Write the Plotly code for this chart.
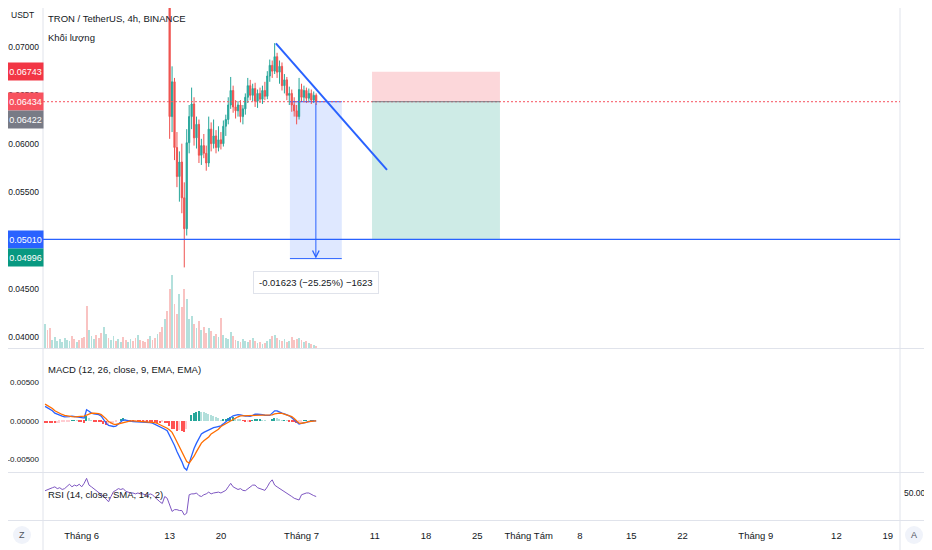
import pandas as pd
import plotly.graph_objects as go

# the page puts the figure 8px in from the top-left corner of the 932x550 window
PAD = 8
W, H = 932 - PAD, 550 - PAD

# TRX/USDT bars (8h steps), 27 May -> 3 Jul 2022
bar_time = pd.date_range("2022-05-27 00:00", periods=112, freq="8h")

open_ = [
    .0812, .0820, .0817, .0811, .0816, .0823, .0827, .0830, .0834, .0838,
    .0852, .0857, .0850, .0845, .0849, .0846, .0834, .0818, .0805, .0812,
    .0815, .0818, .0810, .0806, .0801, .0805, .0808, .0804, .0806, .0809,
    .0807, .0817, .0821, .0814, .0801, .0808, .0811, .0806, .0803, .0807,
    .0804, .0801, .0799, .0790, .0793, .0788, .0777, .0781, .0768, .0752,
    .0760, .0755, .0628, .0664, .0596, .0566, .0581, .0544, .0512, .0601,
    .0628, .0641, .0606, .0620, .0588, .0598, .0590, .0580, .0615, .0600,
    .0608, .0596, .0604, .0600, .0618, .0625, .0640, .0655, .0638, .0634,
    .0640, .0628, .0636, .0648, .0660, .0650, .0657, .0644, .0652, .0646,
    .0655, .0649, .0670, .0681, .0675, .0690, .0674, .0680, .0660, .0666,
    .0650, .0652, .0640, .0634, .0628, .0656, .0648, .0655, .0647, .0652, .0645, .0650,
]
high = [
    .0825, .0828, .0823, .0819, .0826, .0831, .0834, .0838, .0842, .0858,
    .0863, .0862, .0856, .0853, .0855, .0852, .0838, .0824, .0816, .0820,
    .0822, .0824, .0816, .0812, .0809, .0811, .0814, .0810, .0813, .0815,
    .0821, .0826, .0825, .0818, .0811, .0815, .0816, .0812, .0810, .0813,
    .0809, .0807, .0804, .0797, .0799, .0793, .0785, .0786, .0775, .0766,
    .0768, .0759, .0680, .0668, .0612, .0592, .0600, .0560, .0615, .0640,
    .0658, .0648, .0628, .0625, .0605, .0610, .0598, .0628, .0622, .0625,
    .0614, .0618, .0612, .0624, .0630, .0648, .0669, .0660, .0645, .0644,
    .0645, .0640, .0652, .0668, .0666, .0662, .0663, .0656, .0658, .0660,
    .0664, .0675, .0687, .0686, .0704, .0694, .0686, .0684, .0672, .0669,
    .0659, .0656, .0648, .0640, .0668, .0662, .0660, .0658, .0657, .0656, .0654, .0652,
]
low = [
    .0806, .0814, .0809, .0805, .0812, .0818, .0821, .0825, .0829, .0835,
    .0846, .0847, .0840, .0838, .0842, .0830, .0812, .0796, .0801, .0806,
    .0809, .0807, .0802, .0797, .0796, .0800, .0802, .0798, .0801, .0803,
    .0804, .0812, .0810, .0795, .0794, .0802, .0803, .0799, .0797, .0801,
    .0798, .0795, .0786, .0783, .0785, .0772, .0770, .0764, .0742, .0748,
    .0749, .0605, .0612, .0583, .0555, .0540, .0528, .0472, .0505, .0590,
    .0615, .0598, .0595, .0580, .0578, .0585, .0572, .0576, .0592, .0595,
    .0590, .0592, .0594, .0597, .0608, .0620, .0636, .0632, .0626, .0628,
    .0622, .0620, .0630, .0642, .0645, .0644, .0638, .0637, .0642, .0641,
    .0645, .0646, .0664, .0668, .0672, .0668, .0662, .0655, .0652, .0645,
    .0640, .0633, .0628, .0620, .0625, .0643, .0644, .0642, .0643, .0641, .0642, .0640,
]
close = [
    .0820, .0817, .0811, .0816, .0823, .0827, .0830, .0834, .0838, .0852,
    .0857, .0850, .0845, .0849, .0846, .0834, .0818, .0805, .0812, .0815,
    .0818, .0810, .0806, .0801, .0805, .0808, .0804, .0806, .0809, .0807,
    .0817, .0821, .0814, .0801, .0808, .0811, .0806, .0803, .0807, .0804,
    .0801, .0799, .0790, .0793, .0788, .0777, .0781, .0768, .0752, .0760,
    .0755, .0628, .0664, .0596, .0566, .0581, .0544, .0512, .0601, .0628,
    .0641, .0606, .0620, .0588, .0598, .0590, .0580, .0615, .0600, .0608,
    .0596, .0604, .0600, .0618, .0625, .0640, .0655, .0638, .0634, .0640,
    .0628, .0636, .0648, .0660, .0650, .0657, .0644, .0652, .0646, .0655,
    .0649, .0670, .0681, .0675, .0690, .0674, .0680, .0660, .0666, .0650,
    .0652, .0640, .0634, .0628, .0656, .0648, .0655, .0647, .0652, .0645, .0650, .06434,
]
# volume, millions of TRX
volume = [
    250, 180, 200, 80, 110, 70, 90, 60, 100, 80,
    70, 120, 90, 60, 80, 100, 110, 430, 180, 120,
    90, 130, 100, 150, 220, 140, 100, 80, 120, 70,
    90, 60, 110, 80, 60, 90, 70, 100, 130, 80,
    70, 60, 90, 120, 80, 100, 140, 160, 220, 300,
    380, 600, 750, 450, 350, 550, 420, 600, 500, 300,
    330, 250, 200, 280, 180, 220, 150, 200, 170, 120,
    140, 110, 310, 130, 100, 90, 160, 120, 80, 70,
    60, 90, 70, 60, 80, 100, 70, 50, 60, 40,
    50, 70, 90, 120, 130, 100, 80, 70, 90, 60,
    70, 110, 80, 90, 100, 80, 60, 70, 50, 40, 30, 20,
]
macd = [
    .00187, .00170, .00150, .00130, .00100, .00085, .00072, .00062, .00052, .00050,
    .00055, .00060, .00057, .00055, .00050, .00040, .00035, .00143, .00125, .00100,
    .00091, .00088, .00080, .00060, .00013, -.00030, -.00060, -.00072, -.00074, -.00070,
    -.00040, -.00010, .00013, .00010, .00000, -.00005, -.00009, -.00010, -.00012, -.00015,
    -.00017, -.00018, -.00020, -.00025, -.00030, -.00045, -.00060, -.00075, -.00087, -.00110,
    -.00130, -.00190, -.00250, -.00320, -.00400, -.00460, -.00530, -.00610, -.00640, -.00550,
    -.00440, -.00360, -.00290, -.00220, -.00170, -.00150, -.00135, -.00120, -.00100, -.00090,
    -.00082, -.00072, -.00065, -.00040, -.00010, .00020, .00043, .00065, .00075, .00080,
    .00078, .00065, .00060, .00062, .00057, .00070, .00085, .00087, .00087, .00080,
    .00072, .00070, .00070, .00100, .00130, .00130, .00113, .00100, .00090, .00080,
    .00065, .00040, .00010, -.00025, -.00043, -.00035, -.00025, -.00015, -.00009, -.00005, -.00002, .00000,
]
signal = [
    .00217, .00200, .00180, .00160, .00130, .00112, .00095, .00082, .00070, .00063,
    .00058, .00055, .00052, .00053, .00054, .00055, .00060, .00075, .00090, .00098,
    .00100, .00098, .00092, .00080, .00057, .00025, -.00010, -.00030, -.00043, -.00048,
    -.00040, -.00028, -.00017, -.00008, -.00003, .00000, .00000, -.00003, -.00005, -.00007,
    -.00009, -.00011, -.00013, -.00015, -.00017, -.00025, -.00035, -.00048, -.00065, -.00080,
    -.00096, -.00120, -.00150, -.00210, -.00270, -.00335, -.00400, -.00470, -.00530, -.00550,
    -.00510, -.00460, -.00400, -.00345, -.00290, -.00260, -.00235, -.00210, -.00170, -.00150,
    -.00130, -.00110, -.00074, -.00055, -.00035, -.00015, .00000, .00020, .00038, .00052,
    .00065, .00066, .00065, .00065, .00065, .00066, .00068, .00070, .00070, .00071,
    .00071, .00070, .00070, .00078, .00090, .00098, .00100, .00095, .00085, .00078,
    .00070, .00055, .00030, .00000, -.00030, -.00032, -.00028, -.00020, -.00009, -.00006, -.00003, .00000,
]
hist = [
    -.00030, -.00030, -.00030, -.00030, -.00030, -.00027, -.00023, -.00020, -.00018, -.00013,
    -.00003, .00005, .00005, .00002, -.00004, -.00015, -.00025, .00068, .00035, .00002,
    -.00009, -.00010, -.00012, -.00020, -.00044, -.00055, -.00050, -.00042, -.00031, -.00022,
    .00000, .00018, .00030, .00018, .00003, -.00005, -.00009, -.00007, -.00007, -.00008,
    -.00008, -.00007, -.00007, -.00010, -.00013, -.00020, -.00025, -.00027, -.00022, -.00030,
    -.00034, -.00070, -.00100, -.00110, -.00130, -.00125, -.00130, -.00140, -.00110, .00000,
    .00070, .00100, .00110, .00125, .00120, .00110, .00100, .00090, .00070, .00060,
    .00048, .00038, .00010, .00015, .00025, .00035, .00043, .00045, .00037, .00028,
    .00013, -.00001, -.00005, -.00003, -.00008, .00004, .00017, .00017, .00017, .00009,
    .00001, .00000, .00000, .00022, .00040, .00032, .00013, .00005, .00005, .00002,
    -.00005, -.00015, -.00020, -.00025, -.00013, -.00003, .00003, .00005, .00000, .00001, .00001, .00000,
]
rsi = [
    52.6, 54, 55, 56, 57, 55, 56, 54, 55, 58,
    60, 57, 59, 58, 60, 57, 61, 66.7, 59, 57,
    55, 52, 50, 48, 46, 43, 40, 46, 51.5, 53,
    55, 54, 55, 52, 51, 50, 50, 49, 50, 49,
    49, 48, 47, 49, 48, 45, 42, 40, 38, 46,
    44, 36, 29, 31, 31, 30, 30, 25, 27, 48,
    49, 49, 50, 47, 46, 48, 49, 51, 49, 50,
    50.4, 51, 50, 52, 53, 57, 61, 57, 55, 54,
    55, 53, 52.6, 55, 57, 59, 59, 56, 55, 54,
    53, 57, 62, 65, 59, 57, 55, 53, 51.5, 50,
    48, 46, 44, 43, 42, 48, 49, 50, 50, 48, 47, 46,
]

# x axis labels (Vietnamese locale)
tick_dates = ["2022-06-01", "2022-06-13", "2022-06-20", "2022-07-01", "2022-07-11",
              "2022-07-18", "2022-07-25", "2022-08-01", "2022-08-08", "2022-08-15",
              "2022-08-22", "2022-09-01", "2022-09-12", "2022-09-19"]
tick_text = ["Tháng 6", "13", "20", "Tháng 7", "11", "18", "25", "Tháng Tám",
             "8", "15", "22", "Tháng 9", "12", "19"]
# 0.05000 sits fully under the price badges, so it is left out
price_ticks = [0.040, 0.045, 0.055, 0.060, 0.065, 0.070]
macd_ticks = [-0.005, 0.0, 0.005]
macd_tick_text = ["-0.00500", "0.00000", "0.00500"]

# drawings on the chart
last_price = 0.06434
prev_close = 0.06422
support = 0.05010
support_mark = 0.04996
stop_level = 0.06743
trend = (("2022-06-27 12:00", 0.07038), ("2022-07-12 16:00", 0.05728))
measure_x = ("2022-06-29 10:00", "2022-07-06 12:00")
measure_arrow_x = "2022-07-02 23:00"
measure_top, measure_bottom = 0.06434, 0.04811
measure_text = "-0.01623 (−25.25%) −1623"
position_x = ("2022-07-10 15:00", "2022-07-28 02:00")

X_RANGE = ["2022-05-26 17:14", "2022-09-20 16:20"]
UP, DOWN = "#26a69a", "#ef5350"
BLUE = "#2962ff"
TXT = "#131722"
FONT = "Liberation Sans, Arial, sans-serif"


def fx(p):
    # window pixel -> paper fraction
    return (p - PAD) / W


def fy(p):
    return 1 - (p - PAD) / H


fig = go.Figure()

fig.add_trace(go.Bar(
    x=bar_time, y=volume, xaxis="x", yaxis="y2",
    marker=dict(color=["rgba(38,166,154,0.35)" if c >= o else "rgba(239,83,80,0.35)"
                       for o, c in zip(open_, close)], line_width=0),
    width=8 * 3600 * 1000 * 0.75, hoverinfo="skip",
))
fig.add_trace(go.Candlestick(
    x=bar_time, open=open_, high=high, low=low, close=close,
    xaxis="x", yaxis="y", whiskerwidth=0,
    increasing=dict(line=dict(color=UP, width=1), fillcolor=UP),
    decreasing=dict(line=dict(color=DOWN, width=1), fillcolor=DOWN),
))

hist_colors = []
for k, v in enumerate(hist):
    prev = hist[k - 1] if k else v
    if v >= 0:
        hist_colors.append("#26a69a" if v >= prev else "#b2dfdb")
    else:
        hist_colors.append("#ff5252" if v <= prev else "#ffcdd2")
fig.add_trace(go.Bar(x=bar_time, y=hist, xaxis="x2", yaxis="y3",
                     marker=dict(color=hist_colors, line_width=0),
                     width=8 * 3600 * 1000 * 0.6))
fig.add_trace(go.Scatter(x=bar_time, y=macd, xaxis="x2", yaxis="y3", mode="lines",
                         line=dict(color=BLUE, width=1.3)))
fig.add_trace(go.Scatter(x=bar_time, y=signal, xaxis="x2", yaxis="y3", mode="lines",
                         line=dict(color="#ff6d00", width=1.3)))
fig.add_trace(go.Scatter(x=bar_time, y=rsi, xaxis="x3", yaxis="y4", mode="lines",
                         line=dict(color="#7e57c2", width=1)))

xdom = [fx(43), fx(900)]
xcommon = dict(type="date", domain=xdom, range=X_RANGE, showgrid=False, automargin=False,
               zeroline=False, showline=False, fixedrange=True)
ycommon = dict(showgrid=False, zeroline=False, showline=False, ticks="", automargin=False,
               ticklabelstandoff=3)

shapes = []
# pane separators and scale borders
for yy in (348.5, 472.5, 520.5):
    shapes.append(dict(type="line", xref="paper", yref="paper", x0=0, x1=1,
                       y0=fy(yy), y1=fy(yy), line=dict(color="#e0e3eb", width=1)))
for xx in (43, 900):
    shapes.append(dict(type="line", xref="paper", yref="paper", x0=fx(xx), x1=fx(xx),
                       y0=0, y1=1, line=dict(color="#e0e3eb", width=1)))

# measure box
shapes.append(dict(type="rect", xref="x", yref="y", x0=measure_x[0], x1=measure_x[1],
                   y0=measure_bottom, y1=measure_top, fillcolor="rgba(41,98,255,0.15)",
                   line_width=0, layer="below"))
for lvl in (measure_top, measure_bottom):
    shapes.append(dict(type="line", xref="x", yref="y", x0=measure_x[0], x1=measure_x[1],
                       y0=lvl, y1=lvl, line=dict(color=BLUE, width=1)))
# short position tool
shapes.append(dict(type="rect", xref="x", yref="y", x0=position_x[0], x1=position_x[1],
                   y0=last_price, y1=stop_level, fillcolor="rgba(242,54,69,0.2)",
                   line_width=0, layer="below"))
shapes.append(dict(type="rect", xref="x", yref="y", x0=position_x[0], x1=position_x[1],
                   y0=support, y1=last_price, fillcolor="rgba(8,153,129,0.2)",
                   line_width=0, layer="below"))
# horizontal lines
shapes.append(dict(type="line", xref="x domain", yref="y", x0=0, x1=1,
                   y0=last_price, y1=last_price,
                   line=dict(color="#f7525f", width=1, dash="2px,2px")))
shapes.append(dict(type="line", xref="x", yref="y", x0=position_x[0], x1=position_x[1],
                   y0=last_price, y1=last_price, line=dict(color="#787b86", width=1)))
shapes.append(dict(type="line", xref="x domain", yref="y", x0=0, x1=1,
                   y0=support, y1=support, line=dict(color=BLUE, width=1.3)))
# trend line
shapes.append(dict(type="line", xref="x", yref="y", x0=trend[0][0], y0=trend[0][1],
                   x1=trend[1][0], y1=trend[1][1], line=dict(color=BLUE, width=2)))
# Z / A buttons
for cx in (22, 914):
    shapes.append(dict(type="circle", xref="paper", yref="paper",
                       x0=fx(cx - 9), x1=fx(cx + 9), y0=fy(544), y1=fy(526),
                       fillcolor="#f0f3fa", line_width=0))

ann = []


def note(text, x, y, size=9.5, color=TXT, family=FONT, anchor="left", **kw):
    ann.append(dict(text=text, x=fx(x), y=fy(y), xref="paper", yref="paper",
                    showarrow=False, xanchor=anchor, yanchor="middle",
                    font=dict(family=family, size=size, color=color), **kw))


note("USDT", 9, 15, size=8.5)
note("TRON / TetherUS, 4h, BINANCE", 46, 19)
note("Khối lượng", 46, 37)
note("MACD (12, 26, close, 9, EMA, EMA)", 46, 369)
note("RSI (14, close, SMA, 14, 2)", 46, 494)
note("Z", 22, 535, anchor="center", size=9, color="#50535e")
note("A", 914, 535, anchor="center", size=9, color="#50535e")

for val, col, shift in ((stop_level, "#f23645", 0), (last_price, "#f7525f", 0),
                        (prev_close, "#787b86", -17), (support, BLUE, 0),
                        (support_mark, "#089981", -17)):
    ann.append(dict(text=f"{val:.5f}", xref="paper", yref="y", x=fx(25.5), y=val,
                    yshift=shift, showarrow=False, xanchor="center", yanchor="middle",
                    width=35, height=17, bgcolor=col, borderpad=0,
                    font=dict(family=FONT, size=9, color="white")))

ann.append(dict(text="", xref="x", yref="y", axref="x", ayref="y",
                x=measure_arrow_x, y=measure_bottom, ax=measure_arrow_x, ay=measure_top,
                showarrow=True, arrowhead=5, arrowsize=1.3, arrowwidth=1, arrowcolor=BLUE))
ann.append(dict(text=measure_text, xref="x", yref="y", x=measure_arrow_x, y=measure_bottom,
                yshift=-24, showarrow=False, xanchor="center", yanchor="middle",
                bgcolor="white", bordercolor="#e0e3eb", borderwidth=1, borderpad=5,
                font=dict(family=FONT, size=9.5, color=TXT)))

fig.update_layout(
    width=W, height=H, margin=dict(l=0, r=0, t=0, b=0, autoexpand=False),
    paper_bgcolor="white", plot_bgcolor="white", showlegend=False,
    bargap=0, hovermode=False,
    xaxis=dict(xcommon, anchor="y", showticklabels=False, rangeslider=dict(visible=False)),
    xaxis2=dict(xcommon, anchor="y3", showticklabels=False, matches="x"),
    xaxis3=dict(xcommon, anchor="y4", matches="x", tickvals=tick_dates, ticktext=tick_text,
                ticks="", ticklabelstandoff=8,
                tickfont=dict(family=FONT, size=9.5, color=TXT)),
    # window top edge (y=8) sits at 0.074034
    yaxis=dict(ycommon, domain=[fy(348), 1], range=[0.038862, 0.074034], anchor="x",
               tickvals=price_ticks, tickformat=".5f", side="left",
               tickfont=dict(family=FONT, size=8.5, color=TXT)),
    yaxis2=dict(overlaying="y", range=[0, 3480], visible=False, anchor="x"),
    yaxis3=dict(ycommon, domain=[fy(472), fy(349)], range=[-0.00665, 0.009325], anchor="x2",
                tickvals=macd_ticks, ticktext=macd_tick_text, side="left",
                tickfont=dict(family=FONT, size=8, color=TXT)),
    yaxis4=dict(ycommon, domain=[fy(520), fy(473)], range=[19.2, 72.8], anchor="x3",
                tickvals=[50], ticktext=["50.00"], side="right",
                tickfont=dict(family=FONT, size=8.5, color=TXT)),
    shapes=shapes, annotations=ann,
)

fig.write_html("out.html")
